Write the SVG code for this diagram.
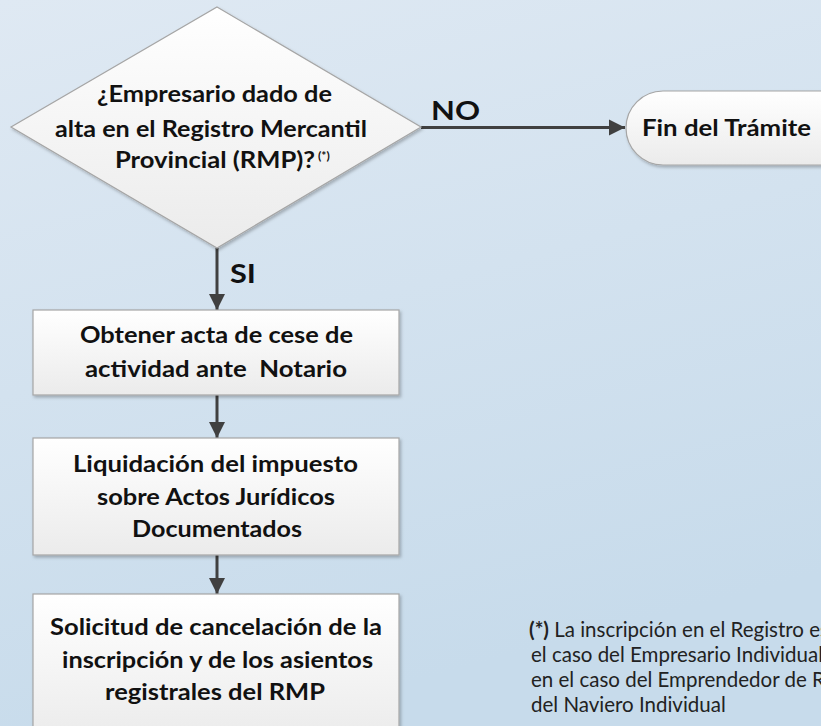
<svg xmlns="http://www.w3.org/2000/svg" width="821" height="726" viewBox="0 0 821 726">
<defs>
<linearGradient id="bg" x1="0" y1="0" x2="0.3" y2="1">
<stop offset="0" stop-color="#dfe9f3"/>
<stop offset="1" stop-color="#c7dbeb"/>
</linearGradient>
<linearGradient id="nodefill" x1="0" y1="0" x2="0" y2="1">
<stop offset="0" stop-color="#ffffff"/>
<stop offset="1" stop-color="#ebebeb"/>
</linearGradient>
<filter id="sh" x="-10%" y="-10%" width="120%" height="130%">
<feDropShadow dx="1.5" dy="2" stdDeviation="1.5" flood-color="#000" flood-opacity="0.25"/>
</filter>
<marker id="arr" viewBox="0 0 10 10" refX="10" refY="5" markerWidth="5.5" markerHeight="5.5" orient="auto" markerUnits="strokeWidth">
<path d="M0,0 L10,5 L0,10 z" fill="#404040"/>
</marker>
<style>
.node{fill:url(#nodefill);stroke:#a6a6a6;stroke-width:1.2;filter:url(#sh)}
.t{font-family:Lato,"Liberation Sans",sans-serif;font-weight:bold;font-size:23.5px;fill:#111;text-anchor:middle}
.lbl{font-family:Lato,"Liberation Sans",sans-serif;font-weight:bold;font-size:27px;fill:#111}
.conn{stroke:#404040;stroke-width:3;fill:none;marker-end:url(#arr)}
.fn{font-family:Lato,"Liberation Sans",sans-serif;font-size:20.5px;fill:#222}
</style>
</defs>
<rect x="0" y="0" width="821" height="726" fill="url(#bg)"/>

<g id="connectors">
<line class="conn" x1="421" y1="127.5" x2="625" y2="127.5"/>
<line class="conn" x1="217" y1="248" x2="217" y2="310"/>
<line class="conn" x1="217" y1="395" x2="217" y2="438"/>
<line class="conn" x1="217" y1="555" x2="217" y2="594"/>
<text class="lbl" x="431" y="120" textLength="49" lengthAdjust="spacingAndGlyphs">NO</text>
<text class="lbl" x="230" y="283" textLength="26" lengthAdjust="spacingAndGlyphs">SI</text>
</g>

<g id="decision">
<polygon class="node" points="217,7 421,127 217,248 11,127"/>
<text class="t" x="214.5" y="102" textLength="235" lengthAdjust="spacingAndGlyphs">¿Empresario dado de</text>
<text class="t" x="211" y="137" textLength="312" lengthAdjust="spacingAndGlyphs">alta en el Registro Mercantil</text>
<text class="t" x="215" y="168" textLength="200" lengthAdjust="spacingAndGlyphs">Provincial (RMP)?</text>
<text x="318" y="160" font-family="Lato,'Liberation Sans',sans-serif" font-weight="bold" font-size="12" fill="#111">(*)</text>
</g>

<g id="fin">
<rect class="node" x="626" y="91" width="240" height="74" rx="37" ry="37"/>
<text class="t" x="726.5" y="136" textLength="169" lengthAdjust="spacingAndGlyphs">Fin del Trámite</text>
</g>

<g id="paso1">
<rect class="node" x="33" y="310" width="366" height="85"/>
<text class="t" x="216.5" y="343" textLength="273" lengthAdjust="spacingAndGlyphs">Obtener acta de cese de</text>
<text class="t" x="216" y="377" textLength="262" lengthAdjust="spacingAndGlyphs" xml:space="preserve">actividad ante  Notario</text>
</g>

<g id="paso2">
<rect class="node" x="33" y="438" width="366" height="117"/>
<text class="t" x="215.5" y="472" textLength="285" lengthAdjust="spacingAndGlyphs">Liquidación del impuesto</text>
<text class="t" x="216" y="505" textLength="238" lengthAdjust="spacingAndGlyphs">sobre Actos Jurídicos</text>
<text class="t" x="217" y="537" textLength="170" lengthAdjust="spacingAndGlyphs">Documentados</text>
</g>

<g id="paso3">
<rect class="node" x="33" y="594" width="366" height="145"/>
<text class="t" x="216" y="635" textLength="332" lengthAdjust="spacingAndGlyphs">Solicitud de cancelación de la</text>
<text class="t" x="217.5" y="668" textLength="311" lengthAdjust="spacingAndGlyphs">inscripción y de los asientos</text>
<text class="t" x="215" y="700" textLength="220" lengthAdjust="spacingAndGlyphs">registrales del RMP</text>
</g>

<g id="nota">
<text class="fn" x="529" y="637"><tspan font-weight="bold">(*)</tspan> La inscripción en el Registro es</text>
<text class="fn" x="531" y="662">el caso del Empresario Individual</text>
<text class="fn" x="531" y="687">en el caso del Emprendedor de R</text>
<text class="fn" x="531" y="712">del Naviero Individual</text>
</g>
</svg>
